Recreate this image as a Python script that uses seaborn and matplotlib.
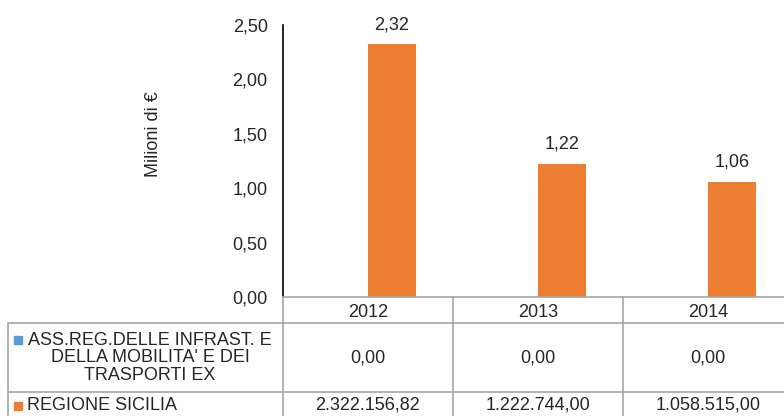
import matplotlib
matplotlib.use("Agg")
import matplotlib.pyplot as plt
import seaborn as sns
import pandas as pd
from matplotlib.lines import Line2D
from matplotlib.patches import Rectangle

years = ["2012", "2013", "2014"]
series_names = ["ASS.REG.DELLE INFRAST. E\nDELLA MOBILITA' E DEI\nTRASPORTI EX", "REGIONE SICILIA"]
ass_reg_values = [0.0, 0.0, 0.0]
regione_values = [2322156.82, 1222744.00, 1058515.00]
ass_reg_labels = ["0,00", "0,00", "0,00"]
regione_labels = ["2.322.156,82", "1.222.744,00", "1.058.515,00"]
y_ticks = [0.0, 0.5, 1.0, 1.5, 2.0, 2.5]
colors = ["#5B9BD5", "#ED7D31"]

sns.set_theme(style="white")
plt.rcParams["font.family"] = ["Liberation Sans", "DejaVu Sans"]

df = pd.DataFrame({
    "Anno": years * 2,
    "Serie": ["ASS"] * 3 + ["RS"] * 3,
    "Valore": [v / 1e6 for v in ass_reg_values] + [v / 1e6 for v in regione_values],
})

FS = 13
TXT = "#262626"
W, H = 784, 416
fig = plt.figure(figsize=(W / 100, H / 100), dpi=100)

def fx(x):
    return x / W

def fy(y):
    return 1 - y / H

ax_left, ax_right, ax_top, ax_bottom = 283, 793, 25, 297
ax = fig.add_axes([fx(ax_left), fy(ax_bottom), (ax_right - ax_left) / W, (ax_bottom - ax_top) / H])

sns.barplot(data=df, x="Anno", y="Valore", hue="Serie", palette=colors, width=0.565,
            ax=ax, legend=False, saturation=1, errorbar=None, linewidth=0)

ax.set_xlim(-0.5, 2.5)
ax.set_ylim(0, 2.5)
ax.set_yticks(y_ticks)
ax.set_yticklabels([f"{t:.2f}".replace(".", ",") for t in y_ticks], fontsize=FS, color=TXT)
ax.set_xticks(range(len(years)))
ax.set_xticklabels(years, fontsize=FS, color=TXT)
ax.tick_params(axis="y", length=0, pad=11)
ax.tick_params(axis="x", length=0, pad=5)
ax.set_xlabel("")
ax.set_ylabel("Milioni di €", fontsize=FS, color=TXT)
ax.yaxis.set_label_coords((162 - ax_left) / (ax_right - ax_left), (ax_bottom - 134) / (ax_bottom - ax_top))
for s in ["top", "right"]:
    ax.spines[s].set_visible(False)
ax.spines["left"].set_color("#000000")
ax.spines["left"].set_linewidth(1.2)
ax.spines["bottom"].set_color("#A6A6A6")
ax.spines["bottom"].set_linewidth(1.2)

# value labels for Regione Sicilia bars
orange_bars = ax.containers[1]
for rect, v in zip(orange_bars, regione_values):
    ax.annotate(f"{v/1e6:.2f}".replace(".", ","),
                (rect.get_x() + rect.get_width() / 2, rect.get_height()),
                xytext=(0, 8), textcoords="offset points", ha="center", va="bottom",
                fontsize=FS, color=TXT)

# data table below the chart
gray = "#A6A6A6"
cat_edges = [ax_left + i * (ax_right - ax_left) / 3 for i in range(4)]
centers = [(cat_edges[i] + cat_edges[i + 1]) / 2 for i in range(3)]
hline_ys = [323, 392]
for yy in hline_ys:
    fig.add_artist(Line2D([fx(8), fx(800)], [fy(yy), fy(yy)], color=gray, lw=1.2, transform=fig.transFigure))
fig.add_artist(Line2D([fx(8), fx(8)], [fy(323), fy(430)], color=gray, lw=1.2, transform=fig.transFigure))
for xe in cat_edges:
    fig.add_artist(Line2D([fx(xe), fx(xe)], [fy(297), fy(430)], color=gray, lw=1.2, transform=fig.transFigure))

# row labels with legend keys
fig.add_artist(Rectangle((fx(14), fy(344)), 8 / W, 8 / H, color=colors[0], transform=fig.transFigure))
fig.text(fx(150), fy(358), series_names[0], ha="center", va="center", fontsize=FS,
         color=TXT, linespacing=1.05, multialignment="center")
fig.add_artist(Rectangle((fx(14), fy(410)), 8 / W, 8 / H, color=colors[1], transform=fig.transFigure))
fig.text(fx(27), fy(405), series_names[1], ha="left", va="center", fontsize=FS, color=TXT)

for c, a_lab, r_lab in zip(centers, ass_reg_labels, regione_labels):
    fig.text(fx(c), fy(358), a_lab, ha="center", va="center", fontsize=FS, color=TXT)
    fig.text(fx(c), fy(405), r_lab, ha="center", va="center", fontsize=FS, color=TXT)

fig.savefig("out.png", dpi=100)
